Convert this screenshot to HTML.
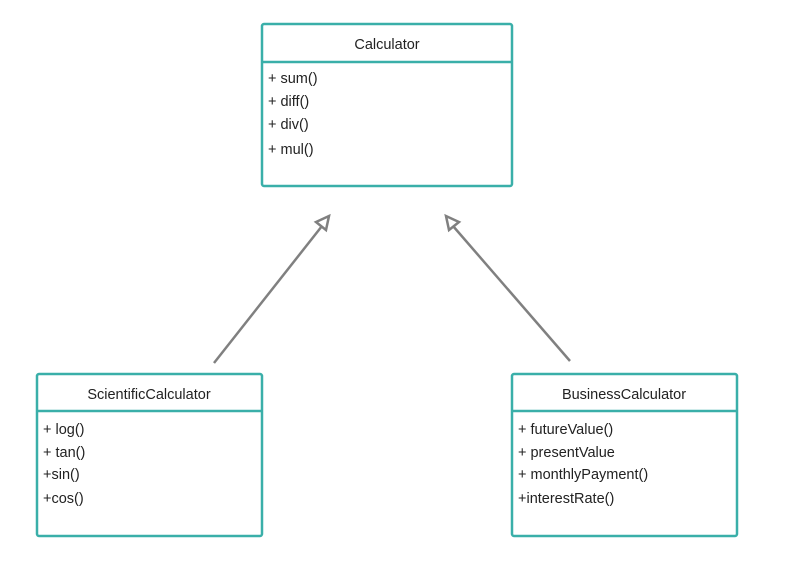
<!DOCTYPE html>
<html><head><style>
body{margin:0;background:#fff;width:805px;height:557px;overflow:hidden}
svg text{font-family:"Liberation Sans",sans-serif;font-size:14.5px;fill:#222}
</style></head><body>
<svg width="805" height="557" xmlns="http://www.w3.org/2000/svg">
<g fill="#fff" stroke="#3aafa9" stroke-width="2.5">
<rect x="262" y="24" width="250" height="162" rx="2"/>
<line x1="262" y1="62" x2="512" y2="62"/>
<rect x="37" y="374" width="225" height="162" rx="2"/>
<line x1="37" y1="411" x2="262" y2="411"/>
<rect x="512" y="374" width="225" height="162" rx="2"/>
<line x1="512" y1="411" x2="737" y2="411"/>
</g>
<g stroke="#808080" stroke-width="2.5" fill="#fff">
<line x1="214" y1="363" x2="322" y2="226"/>
<polygon points="329,216 316,222 326,230"/>
<line x1="570" y1="361" x2="453" y2="226"/>
<polygon points="446,216 449,230 459,222"/>
</g>
<text x="387" y="49" text-anchor="middle">Calculator</text>
<text x="268" y="83">+ sum()</text>
<text x="268" y="106">+ diff()</text>
<text x="268" y="129">+ div()</text>
<text x="268" y="154">+ mul()</text>
<text x="149" y="399" text-anchor="middle">ScientificCalculator</text>
<text x="43" y="434">+ log()</text>
<text x="43" y="457">+ tan()</text>
<text x="43" y="479">+sin()</text>
<text x="43" y="503">+cos()</text>
<text x="624" y="399" text-anchor="middle">BusinessCalculator</text>
<text x="518" y="434">+ futureValue()</text>
<text x="518" y="457">+ presentValue</text>
<text x="518" y="479">+ monthlyPayment()</text>
<text x="518" y="503">+interestRate()</text>
</svg>
</body></html>
